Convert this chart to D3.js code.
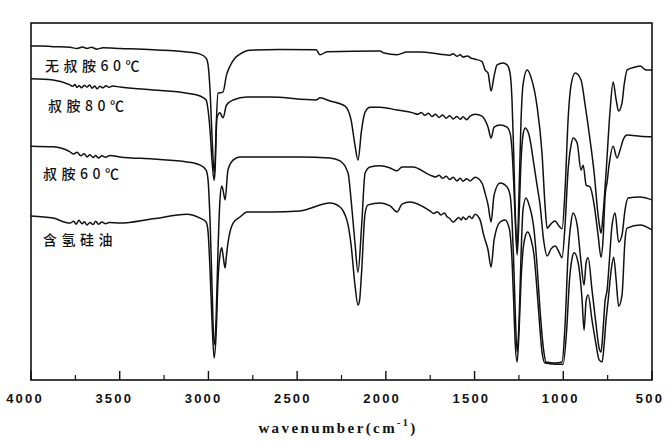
<!DOCTYPE html>
<html><head><meta charset="utf-8">
<script src="https://cdn.jsdelivr.net/npm/d3@7"></script>
<style>body{margin:0;background:#fff}</style>
</head><body><svg id="c" width="670" height="442"></svg>
<script>
// Series labels (top to bottom)
const seriesNames = ["无叔胺60℃", "叔胺80℃", "叔胺60℃", "含氢硅油"];
const majorTicks = [4000, 3500, 3000, 2500, 2000, 1500, 1000, 500];
const minorTicks = [3750, 3250, 2750, 2250, 1750, 1250, 750];
const xTitle = "wavenumber(cm";

// [wavenumber (cm-1), transmittance (a.u., stacked)]
const specA = [[4000,93.6],[3949,93.6],[3876,93.4],[3780,93.2],[3740,92.9],[3710,93.3],[3684,92.9],[3660,93.2],[3628,92.7],[3594,93.1],[3498,92.9],[3312,92.5],[3121,91.9],[3047,91.3],[3013,90.2],[3002,88.3],[2991,81.3],[2980,68.7],[2968,58.4],[2963,60.3],[2957,70.1],[2946,80.4],[2918,80.7],[2898,85.5],[2878,88.0],[2850,90.2],[2822,91.3],[2766,92.4],[2596,92.6],[2393,92.5],[2371,91.1],[2331,92.0],[2033,92.2],[2010,91.6],[1937,91.1],[1880,91.9],[1807,91.9],[1694,91.3],[1640,91.0],[1620,91.4],[1600,90.7],[1580,91.1],[1565,90.5],[1540,90.8],[1520,90.2],[1497,89.9],[1458,89.2],[1441,86.9],[1424,86.0],[1407,81.0],[1390,85.2],[1373,88.3],[1339,88.8],[1317,88.3],[1300,86.0],[1289,78.5],[1280,64.5],[1272,49.2],[1260,37.2],[1249,53.4],[1238,72.9],[1227,82.7],[1204,86.9],[1179,84.4],[1148,76.8],[1120,63.7],[1103,49.2],[1091,42.7],[1069,43.9],[1046,44.7],[1024,43.3],[1007,42.5],[990,53.4],[973,72.9],[956,82.7],[933,86.0],[900,84.1],[877,77.1],[849,67.3],[826,58.1],[804,46.4],[792,42.2],[787,41.3],[776,46.4],[759,58.1],[736,75.7],[719,83.5],[702,78.5],[688,75.4],[669,77.7],[657,82.7],[640,86.9],[595,87.7],[567,88.0],[533,86.9],[500,86.9]];

const specB = [[4000,84.4],[3876,84.1],[3780,82.7],[3765,82.3],[3752,82.8],[3741,82.0],[3728,82.5],[3715,81.9],[3700,82.6],[3684,82.1],[3670,82.7],[3655,81.8],[3640,82.4],[3628,81.6],[3612,82.3],[3594,81.9],[3578,82.5],[3560,82.0],[3540,82.4],[3498,82.1],[3312,81.3],[3121,80.4],[3047,79.6],[3013,78.5],[3002,75.7],[2991,70.1],[2980,61.7],[2968,56.1],[2963,58.4],[2952,73.5],[2935,74.9],[2918,73.5],[2898,77.1],[2861,78.5],[2782,79.3],[2653,79.3],[2393,78.5],[2371,79.1],[2315,78.2],[2230,76.8],[2196,72.9],[2174,65.9],[2157,61.7],[2137,70.1],[2117,75.1],[2089,76.5],[2033,76.5],[1937,75.7],[1847,74.9],[1820,74.5],[1800,75.0],[1780,74.2],[1760,74.8],[1740,73.9],[1720,74.5],[1700,73.6],[1680,74.3],[1660,73.4],[1640,74.1],[1620,73.2],[1600,73.9],[1580,73.1],[1565,73.8],[1545,73.0],[1525,74.0],[1497,74.5],[1458,74.0],[1441,72.9],[1424,70.9],[1407,67.9],[1390,70.9],[1356,71.5],[1317,70.9],[1300,69.3],[1289,64.5],[1280,56.1],[1272,46.4],[1260,35.2],[1249,46.4],[1238,61.7],[1227,68.7],[1215,70.7],[1193,68.7],[1165,60.3],[1148,54.7],[1131,49.2],[1111,39.4],[1091,34.9],[1069,36.9],[1046,37.7],[1024,36.0],[1007,34.4],[990,43.6],[973,58.9],[956,65.9],[945,67.9],[922,66.5],[900,58.9],[888,60.3],[871,54.7],[849,54.2],[826,49.2],[804,40.8],[787,34.6],[776,39.4],[764,52.0],[753,55.6],[742,60.3],[719,65.6],[697,62.3],[680,64.5],[663,67.3],[640,68.7],[567,68.4],[500,68.2]];

const specC = [[4000,65.6],[3876,65.4],[3780,64.0],[3760,63.4],[3740,63.9],[3720,62.9],[3700,63.5],[3684,62.6],[3668,63.2],[3650,62.4],[3635,63.0],[3620,62.3],[3600,62.9],[3580,62.5],[3555,63.0],[3498,62.6],[3312,62.0],[3121,61.2],[3047,60.3],[3013,58.9],[3002,56.1],[2991,45.0],[2980,26.8],[2968,10.1],[2957,17.0],[2946,36.6],[2935,50.6],[2925,54.5],[2918,53.4],[2906,50.6],[2890,58.9],[2861,61.7],[2822,62.6],[2653,62.6],[2484,62.6],[2315,62.3],[2258,61.5],[2213,58.1],[2196,50.6],[2174,38.5],[2157,30.4],[2137,43.0],[2117,58.1],[2089,59.8],[2033,60.1],[1976,59.5],[1937,58.7],[1909,59.8],[1847,59.8],[1751,57.5],[1720,57.0],[1700,57.5],[1680,56.6],[1660,57.2],[1640,56.3],[1620,56.9],[1600,55.9],[1580,56.6],[1565,55.8],[1545,56.5],[1525,55.9],[1497,56.9],[1458,55.3],[1441,52.5],[1424,49.2],[1407,44.4],[1390,52.0],[1356,55.3],[1317,54.2],[1300,52.0],[1289,45.0],[1280,33.8],[1272,21.2],[1260,8.1],[1249,17.0],[1238,35.2],[1227,47.8],[1210,51.1],[1193,49.2],[1165,42.2],[1148,32.4],[1131,19.8],[1111,8.7],[1097,5.3],[1046,5.0],[1007,5.3],[990,15.6],[973,35.2],[956,44.4],[945,46.9],[922,43.6],[900,33.2],[883,26.8],[871,33.2],[860,34.4],[838,25.4],[815,15.6],[798,9.2],[787,8.1],[776,14.2],[764,22.6],[753,25.4],[742,32.4],[725,43.6],[708,46.9],[688,38.8],[669,40.8],[652,47.8],[635,51.1],[567,51.4],[500,50.6]];

const specD = [[4000,46.1],[3876,45.5],[3780,44.1],[3760,44.6],[3745,43.8],[3730,44.9],[3712,43.9],[3700,44.5],[3684,43.6],[3668,44.3],[3650,43.7],[3635,44.6],[3620,43.8],[3600,44.4],[3580,43.9],[3560,44.3],[3498,44.1],[3312,45.3],[3121,46.6],[3047,45.5],[3013,44.4],[3002,41.6],[2991,31.0],[2980,17.0],[2968,6.4],[2957,12.8],[2946,28.2],[2935,35.2],[2925,37.2],[2918,35.2],[2906,31.6],[2898,35.2],[2890,38.5],[2861,44.1],[2822,45.8],[2782,47.2],[2653,47.2],[2484,47.5],[2315,49.7],[2258,48.6],[2230,46.4],[2213,43.6],[2196,38.0],[2174,26.8],[2157,21.2],[2148,22.6],[2137,30.2],[2117,46.9],[2100,49.2],[2033,49.7],[1976,48.9],[1937,47.2],[1909,49.4],[1864,50.0],[1751,47.5],[1730,46.8],[1710,47.3],[1690,46.4],[1670,46.9],[1655,45.9],[1640,45.4],[1621,44.4],[1605,45.0],[1590,45.7],[1575,45.0],[1565,45.8],[1548,45.1],[1530,46.0],[1515,45.4],[1497,46.6],[1469,45.0],[1449,40.8],[1424,36.6],[1407,31.8],[1390,39.4],[1356,44.4],[1328,45.0],[1305,42.7],[1289,33.8],[1280,22.6],[1272,11.5],[1260,5.3],[1249,14.2],[1238,28.2],[1227,36.6],[1215,40.2],[1201,41.6],[1181,39.4],[1165,35.2],[1148,25.4],[1131,14.2],[1120,8.1],[1103,5.0],[1046,4.7],[1001,4.7],[981,14.2],[965,28.2],[950,34.4],[939,35.8],[917,33.2],[894,22.6],[883,14.2],[871,22.6],[860,24.0],[838,17.0],[815,10.1],[798,5.9],[781,5.3],[770,10.1],[759,17.0],[747,22.6],[730,31.0],[716,34.6],[702,28.2],[688,20.9],[669,24.0],[652,39.4],[640,42.7],[567,43.6],[500,42.2]];

const spectra = [specA, specB, specC, specD];

const svg = d3.select("#c");
const mLeft = 31, mRight = 652, mTop = 23, mBottom = 380;
const x = d3.scaleLinear().domain([4000, 500]).range([mLeft, mRight]);
const y = d3.scaleLinear().domain([0, 100]).range([381, 23]);

const line = d3.line().x(d => x(d[0])).y(d => y(d[1])).curve(d3.curveMonotoneX);

svg.append("g").selectAll("path").data(spectra).join("path")
  .attr("d", line).attr("fill", "none").attr("stroke", "#111")
  .attr("stroke-width", 1.5).attr("stroke-linejoin", "round");

// frame
svg.append("rect").attr("x", mLeft).attr("y", mTop).attr("width", mRight - mLeft).attr("height", mBottom - mTop)
  .attr("fill", "none").attr("stroke", "#111").attr("stroke-width", 1.6);

// bottom axis: inward ticks
const ax = svg.append("g").attr("transform", `translate(0,${mBottom})`);
ax.selectAll("line.maj").data(majorTicks).join("line").attr("class", "maj")
  .attr("x1", d => x(d)).attr("x2", d => x(d)).attr("y1", 0).attr("y2", -9)
  .attr("stroke", "#111").attr("stroke-width", 1.4);
ax.selectAll("line.min").data(minorTicks).join("line").attr("class", "min")
  .attr("x1", d => x(d)).attr("x2", d => x(d)).attr("y1", 0).attr("y2", -5)
  .attr("stroke", "#111").attr("stroke-width", 1.2);
ax.selectAll("text").data(majorTicks).join("text")
  .attr("x", d => x(d) - 6 + (4000 - d) / 3500 * 4).attr("y", 23)
  .attr("text-anchor", "middle").attr("font-family", "Liberation Sans, Arial, sans-serif")
  .attr("font-weight", "bold").attr("font-size", 13).attr("letter-spacing", 2.2)
  .attr("fill", "#111").text(d => d);

// axis title
const t = svg.append("text").attr("x", 338).attr("y", 433).attr("text-anchor", "middle")
  .attr("font-family", "Liberation Serif, Times New Roman, serif").attr("font-weight", "bold")
  .attr("font-size", 15).attr("letter-spacing", 2.4).attr("fill", "#111");
t.append("tspan").text(xTitle);
t.append("tspan").attr("font-size", 10).attr("dy", -7).text("-1");
t.append("tspan").attr("dy", 7).text(")");

// series labels
const labelPos = [[45, 66], [48, 106], [43, 174], [43, 240]];
svg.append("g").selectAll("text").data(seriesNames).join("text")
  .attr("x", (d, i) => labelPos[i][0]).attr("y", (d, i) => labelPos[i][1] + 5)
  .attr("font-family", "Noto Sans CJK SC, sans-serif").attr("font-size", 14)
  .attr("font-weight", 500).attr("letter-spacing", 4.5).attr("fill", "#111").text(d => d);
</script></body></html>
